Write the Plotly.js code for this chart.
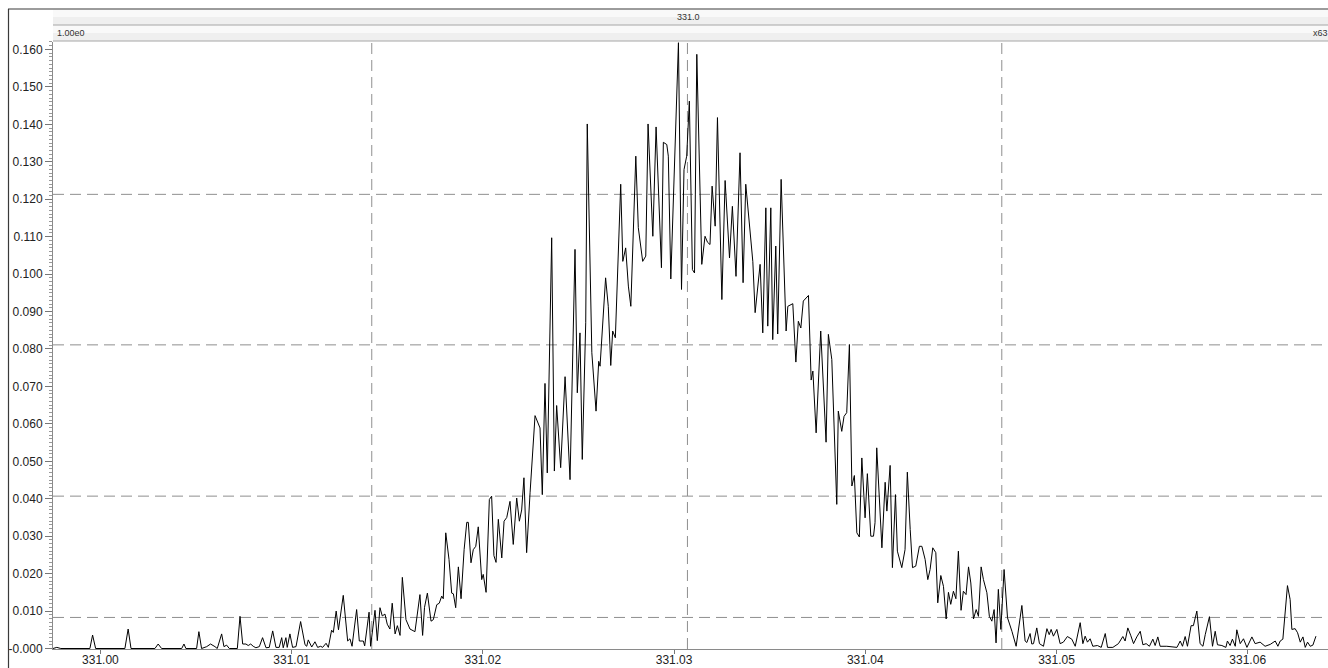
<!DOCTYPE html>
<html>
<head>
<meta charset="utf-8">
<script src="https://cdn.plot.ly/plotly-3.0.1.min.js"></script>
<style>
html,body{margin:0;padding:0;background:#ffffff;}
#chart{width:1328px;height:668px;}
</style>
</head>
<body>
<div id="chart"></div>
<script>
// m/z values (x)
const mz = [
330.99752,330.99772,330.99793,330.99840,330.99856,330.99872,330.99945,330.99959,330.99975,331.00128,
331.00145,331.00160,331.00285,331.00302,331.00320,331.00425,331.00437,331.00447,331.00503,331.00515,
331.00529,331.00556,331.00576,331.00599,331.00611,331.00634,331.00646,331.00660,331.00674,331.00716,
331.00730,331.00744,331.00761,331.00773,331.00786,331.00799,331.00813,331.00831,331.00848,331.00866,
331.00883,331.00901,331.00918,331.00935,331.00948,331.00956,331.00970,331.00977,331.00991,331.01005,
331.01023,331.01047,331.01070,331.01079,331.01087,331.01105,331.01122,331.01136,331.01152,331.01162,
331.01180,331.01192,331.01209,331.01218,331.01233,331.01245,331.01270,331.01293,331.01305,331.01316,
331.01340,331.01354,331.01375,331.01382,331.01405,331.01413,331.01436,331.01448,331.01462,331.01474,
331.01488,331.01500,331.01514,331.01526,331.01541,331.01553,331.01567,331.01579,331.01598,331.01619,
331.01645,331.01671,331.01685,331.01695,331.01710,331.01729,331.01741,331.01759,331.01772,331.01785,
331.01793,331.01806,331.01823,331.01837,331.01846,331.01858,331.01872,331.01886,331.01902,331.01916,
331.01924,331.01938,331.01950,331.01963,331.01976,331.01994,331.02002,331.02017,331.02034,331.02046,
331.02058,331.02069,331.02081,331.02099,331.02111,331.02125,331.02142,331.02159,331.02177,331.02191,
331.02203,331.02215,331.02229,331.02247,331.02273,331.02299,331.02311,331.02325,331.02337,331.02360,
331.02374,331.02386,331.02407,331.02430,331.02456,331.02482,331.02494,331.02508,331.02520,331.02538,
331.02546,331.02570,331.02592,331.02606,331.02613,331.02642,331.02656,331.02669,331.02679,331.02693,
331.02721,331.02732,331.02747,331.02761,331.02774,331.02800,331.02813,331.02836,331.02852,331.02864,
331.02889,331.02906,331.02934,331.02944,331.02962,331.02970,331.02983,331.03023,331.03039,331.03052,
331.03066,331.03080,331.03096,331.03107,331.03119,331.03145,331.03162,331.03175,331.03188,331.03199,
331.03215,331.03227,331.03250,331.03267,331.03290,331.03305,331.03324,331.03345,331.03361,331.03375,
331.03412,331.03424,331.03450,331.03464,331.03480,331.03490,331.03506,331.03516,331.03532,331.03542,
331.03560,331.03586,331.03595,331.03621,331.03637,331.03650,331.03663,331.03676,331.03703,331.03717,
331.03726,331.03743,331.03767,331.03795,331.03807,331.03825,331.03851,331.03859,331.03877,331.03889,
331.03903,331.03917,331.03930,331.03943,331.03956,331.03969,331.03982,331.03999,331.04011,331.04029,
331.04043,331.04051,331.04060,331.04087,331.04104,331.04113,331.04130,331.04142,331.04158,331.04168,
331.04191,331.04208,331.04220,331.04235,331.04247,331.04264,331.04283,331.04296,331.04313,331.04327,
331.04339,331.04353,331.04369,331.04379,331.04395,331.04409,331.04423,331.04435,331.04447,331.04461,
331.04474,331.04487,331.04501,331.04513,331.04527,331.04540,331.04552,331.04566,331.04580,331.04592,
331.04606,331.04618,331.04636,331.04649,331.04662,331.04674,331.04684,331.04696,331.04709,331.04726,
331.04744,331.04767,331.04789,331.04819,331.04836,331.04845,331.04862,331.04871,331.04880,331.04897,
331.04911,331.04932,331.04950,331.04962,331.04972,331.04984,331.05002,331.05019,331.05036,331.05057,
331.05080,331.05098,331.05124,331.05138,331.05150,331.05162,331.05176,331.05190,331.05214,331.05234,
331.05255,331.05267,331.05295,331.05324,331.05347,331.05359,331.05373,331.05389,331.05403,331.05420,
331.05438,331.05452,331.05469,331.05486,331.05504,331.05516,331.05530,331.05542,331.05577,331.05630,
331.05647,331.05659,331.05673,331.05685,331.05704,331.05716,331.05734,331.05751,331.05766,331.05778,
331.05800,331.05816,331.05830,331.05842,331.05865,331.05886,331.05894,331.05908,331.05920,331.05935,
331.05943,331.05961,331.05978,331.05996,331.06022,331.06039,331.06065,331.06091,331.06118,331.06144,
331.06158,331.06170,331.06184,331.06208,331.06222,331.06231,331.06248,331.06261,331.06275,331.06289,
331.06301,331.06313,331.06327,331.06341,331.06357
];

// intensity values (y)
const intensity = [
0,0.0003,0,0,0.0002,0,0,0.0036,0,0,
0.0052,0,0,0.0012,0,0,0.0012,0,0,0.0045,
0,0.0005,0.0012,0.0005,0,0.0039,0.0005,0.0009,0,0,
0.0086,0.0012,0.0012,0.0008,0.0012,0.0006,0.0002,0.0005,0.0029,0.0002,
0.0003,0.0047,0.0003,0.0003,0.0029,0.0002,0.0029,0.0003,0.0039,0.0003,
0.0005,0.0072,0.0010,0.0006,0.0023,0.0004,0.0018,0.0003,0.0006,0.0003,
0.0014,0.0003,0.0049,0.0043,0.0100,0.0050,0.0142,0.0020,0.0026,0.0006,
0.0104,0.0020,0.0020,0.0007,0.0097,0.0006,0.0102,0.0021,0.0109,0.0087,
0.0092,0.0065,0.0052,0.0121,0.0039,0.0061,0.0035,0.0190,0.0077,0.0052,
0.0045,0.0144,0.0035,0.0110,0.0148,0.0073,0.0077,0.0117,0.0121,0.0140,
0.0133,0.0309,0.0238,0.0148,0.0146,0.0109,0.0218,0.0133,0.0264,0.0337,
0.0337,0.0229,0.0264,0.0273,0.0325,0.0184,0.0198,0.0150,0.0398,0.0407,
0.0248,0.0230,0.0345,0.0242,0.0340,0.0350,0.0393,0.0278,0.0402,0.0340,
0.0370,0.0456,0.0256,0.0416,0.0622,0.0589,0.0411,0.0708,0.0469,0.1097,
0.0474,0.0649,0.0483,0.0726,0.0451,0.1066,0.0683,0.0843,0.0505,0.0870,
0.1401,0.0790,0.0634,0.0767,0.0754,0.0990,0.0914,0.0756,0.0848,0.0830,
0.1240,0.1034,0.1070,0.0968,0.0914,0.1315,0.1124,0.1034,0.1048,0.1401,
0.1101,0.1393,0.1017,0.1352,0.1346,0.1315,0.0987,0.1618,0.0959,0.1279,
0.1315,0.1462,0.1012,0.1003,0.1587,0.1026,0.1101,0.1085,0.1079,0.1235,
0.1128,0.1418,0.0932,0.1250,0.1043,0.1181,0.0994,0.1324,0.0977,0.1240,
0.1033,0.0897,0.1026,0.0843,0.1177,0.0861,0.1177,0.0825,0.1075,0.0840,
0.1253,0.0848,0.0914,0.0921,0.0765,0.0874,0.0856,0.0928,0.0943,0.0717,
0.0741,0.0576,0.0848,0.0551,0.0839,0.0772,0.0385,0.0634,0.0580,0.0620,
0.0630,0.0812,0.0434,0.0462,0.0309,0.0298,0.0509,0.0349,0.0467,0.0300,
0.0300,0.0336,0.0536,0.0269,0.0444,0.0367,0.0489,0.0216,0.0411,0.0260,
0.0216,0.0264,0.0471,0.0318,0.0216,0.0220,0.0273,0.0273,0.0238,0.0184,
0.0211,0.0269,0.0256,0.0122,0.0195,0.0166,0.0079,0.0150,0.0118,0.0153,
0.0133,0.0260,0.0102,0.0153,0.0144,0.0218,0.0175,0.0079,0.0104,0.0086,
0.0218,0.0184,0.0149,0.0086,0.0073,0.0104,0.0015,0.0158,0.0051,0.0211,
0.0082,0.0046,0.0006,0.0115,0.0020,0.0016,0.0040,0.0012,0.0013,0.0055,
0.0013,0.0006,0.0053,0.0037,0.0051,0.0033,0.0051,0.0013,0.0017,0.0032,
0.0025,0.0006,0.0069,0.0013,0.0033,0.0017,0.0026,0.0006,0.0008,0.0003,
0.0040,0.0003,0.0003,0.0013,0.0032,0.0020,0.0055,0.0034,0.0013,0.0031,
0.0046,0.0010,0.0013,0.0006,0.0025,0.0008,0.0031,0.0006,0.0006,0.0003,
0.0020,0.0006,0.0032,0.0006,0.0061,0.0061,0.0100,0.0013,0.0006,0.0037,
0.0085,0.0006,0.0046,0.0010,0.0008,0.0003,0.0020,0.0008,0.0025,0.0006,
0.0050,0.0013,0.0026,0.0003,0.0031,0.0013,0.0017,0.0006,0.0011,0.0020,
0.0006,0.0020,0.0025,0.0168,0.0131,0.0051,0.0053,0.0042,0.0017,0.0031,
0.0003,0.0017,0.0006,0.0009,0.0033
];

// axis ticks
const xTickVals = [331.00, 331.01, 331.02, 331.03, 331.04, 331.05, 331.06];
const xTickText = ["331.00", "331.01", "331.02", "331.03", "331.04", "331.05", "331.06"];
const yTickVals = [0, 0.01, 0.02, 0.03, 0.04, 0.05, 0.06, 0.07, 0.08, 0.09, 0.10, 0.11, 0.12, 0.13, 0.14, 0.15, 0.16];
const yTickText = ["-0.000", "0.010", "0.020", "0.030", "0.040", "0.050", "0.060", "0.070", "0.080", "0.090", "0.100", "0.110", "0.120", "0.130", "0.140", "0.150", "0.160"];

// dashed reference markers
const refMz = [331.01419, 331.03070, 331.04714];
const refLevels = [0.1213, 0.0811, 0.0407, 0.0083];

// header texts
const headerCenter = "331.0";
const headerLeft = "1.00e0";
const headerRight = "x63";

// ---- layout geometry ----
const W = 1328, H = 668, ML = 53, MT = 42, MB = 19, MR = 0;
const plotW = W - ML - MR, plotH = H - MT - MB;
const px = x => (x - ML) / plotW;
const py = y => (H - MB - y) / plotH;

const FONT = "Liberation Sans, Arial, Helvetica, sans-serif";
const dashStyle = "11px,6px";
const refColor = "#8f8f8f";

const shapes = [];
// header band 1 (gradient approximated)
shapes.push({type:"rect", xref:"paper", yref:"paper", x0:px(53), x1:px(1328), y0:py(17), y1:py(9.5), line:{width:0}, fillcolor:"#f9f9f9", layer:"above"});
shapes.push({type:"rect", xref:"paper", yref:"paper", x0:px(53), x1:px(1328), y0:py(25), y1:py(17), line:{width:0}, fillcolor:"#efefef", layer:"above"});
// header band 2
shapes.push({type:"rect", xref:"paper", yref:"paper", x0:px(53), x1:px(1328), y0:py(33), y1:py(25), line:{width:0}, fillcolor:"#f9f9f9", layer:"above"});
shapes.push({type:"rect", xref:"paper", yref:"paper", x0:px(53), x1:px(1328), y0:py(41), y1:py(33), line:{width:0}, fillcolor:"#efefef", layer:"above"});
// band borders
shapes.push({type:"line", xref:"paper", yref:"paper", x0:px(53), x1:px(1328), y0:py(25), y1:py(25), line:{color:"#a6a6a6", width:1}, layer:"above"});
shapes.push({type:"line", xref:"paper", yref:"paper", x0:px(53), x1:px(1328), y0:py(41), y1:py(41), line:{color:"#a6a6a6", width:1}, layer:"above"});
// outer frame
shapes.push({type:"line", xref:"paper", yref:"paper", x0:px(8), x1:px(1328), y0:py(9), y1:py(9), line:{color:"#3a3a3a", width:1.2}, layer:"above"});
shapes.push({type:"line", xref:"paper", yref:"paper", x0:px(8.5), x1:px(8.5), y0:py(9), y1:py(668), line:{color:"#3a3a3a", width:1.2}, layer:"above"});
// dashed reference lines
refMz.forEach(v => shapes.push({type:"line", xref:"x", yref:"paper", x0:v, x1:v, y0:0, y1:1, line:{color:refColor, width:1, dash:dashStyle}, layer:"below"}));
refLevels.forEach(v => shapes.push({type:"line", xref:"paper", yref:"y", x0:0, x1:1, y0:v, y1:v, line:{color:refColor, width:1, dash:dashStyle}, layer:"below"}));

const annotations = [
  {text: headerCenter, xref:"paper", yref:"paper", x:px(688), y:py(17), xanchor:"center", yanchor:"middle", showarrow:false, font:{family:FONT, size:9, color:"#333"}},
  {text: headerLeft, xref:"paper", yref:"paper", x:px(55), y:py(33), xanchor:"left", yanchor:"middle", showarrow:false, font:{family:FONT, size:9, color:"#333"}},
  {text: headerRight, xref:"paper", yref:"paper", x:px(1311), y:py(33), xanchor:"left", yanchor:"middle", showarrow:false, font:{family:FONT, size:9, color:"#333"}}
];

const trace = {
  type: "scatter",
  mode: "lines",
  x: mz,
  y: intensity,
  line: {color: "#000000", width: 1},
  hoverinfo: "skip"
};

const layout = {
  width: W, height: H,
  margin: {l: ML, r: MR, t: MT, b: MB, pad: 0},
  paper_bgcolor: "#ffffff",
  plot_bgcolor: "#ffffff",
  showlegend: false,
  font: {family: FONT, size: 12, color: "#222"},
  xaxis: {
    range: [330.99752, 331.06420],
    tickmode: "array", tickvals: xTickVals, ticktext: xTickText,
    ticks: "outside", ticklen: 4, tickwidth: 1, tickcolor: "#777",
    ticklabelstandoff: -4,
    showline: true, linecolor: "#8a8a8a", linewidth: 1,
    showgrid: false, zeroline: false,
    tickfont: {family: FONT, size: 12, color: "#222"}
  },
  yaxis: {
    range: [-0.00013, 0.16199],
    tickmode: "array", tickvals: yTickVals, ticktext: yTickText,
    ticks: "outside", ticklen: 7, tickwidth: 1, tickcolor: "#777",
    minor: {ticks: "outside", tickmode: "linear", tick0: 0, dtick: 0.001, ticklen: 3, tickcolor: "#999", showgrid: false},
    showline: true, linecolor: "#8a8a8a", linewidth: 1,
    showgrid: false, zeroline: false,
    tickfont: {family: FONT, size: 12, color: "#222"}
  },
  shapes: shapes,
  annotations: annotations
};

Plotly.newPlot("chart", [trace], layout, {displayModeBar: false, staticPlot: true});
</script>
</body>
</html>
